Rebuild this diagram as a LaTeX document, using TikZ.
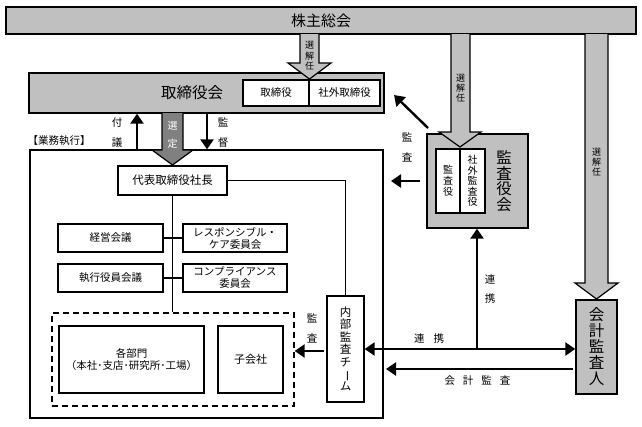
\documentclass[tikz,border=0pt]{standalone}
\usepackage{fontspec}
\setmainfont{Noto Sans CJK JP}
\usetikzlibrary{arrows.meta, calc}
\definecolor{boxgray}{RGB}{192,192,192}
\definecolor{selgray}{RGB}{128,128,128}
\tikzset{
    graybox/.style={draw=black, fill=boxgray, line width=1.4pt, inner sep=0pt},
    whitebox/.style={draw=black, fill=white, line width=1.3pt, inner sep=0pt, align=center,
        font=\fontsize{10.5}{12}\selectfont},
    link/.style={draw=black, line width=1.4pt},
    bigarrow/.style={line width=2.4pt, -{Triangle[length=10pt,width=13pt]}},
    blockarrow/.style={draw=black, fill=boxgray, line width=1.2pt},
    lbl/.style={inner sep=0pt, align=center, font=\fontsize{10.5}{20}\selectfont}
}

\begin{document}
\begin{tikzpicture}[x=1pt, y=-1pt]
    \useasboundingbox (0,0) rectangle (642,426);

    % shareholders and board
    \node[graybox, minimum width=630pt, minimum height=27pt,
        font=\fontsize{15}{16}\selectfont] (meeting) at (321,20.5) {株主総会};
    \node[graybox, minimum width=355pt, minimum height=40pt] (board) at (206.5,93) {};
    \node[inner sep=0pt, font=\fontsize{15.5}{16}\selectfont] (boardtxt) at (192,93) {取締役会};
    \node[whitebox, minimum width=66pt, minimum height=26pt] (dir) at (276,93) {取締役};
    \node[whitebox, minimum width=71pt, minimum height=26pt] (outdir) at (344.5,93) {社外取締役};

    % execution side
    \node[inner sep=0pt, font=\fontsize{10.5}{12}\selectfont] (gyomu) at (59,141) {【業務執行】};
    \node[draw=black, fill=white, line width=1.3pt, minimum width=353pt, minimum height=268pt] (exec) at (206.5,284) {};
    \node[whitebox, minimum width=109pt, minimum height=29pt,
        font=\fontsize{11.5}{12}\selectfont] (pres) at (172.5,180.5) {代表取締役社長};
    \node[whitebox, minimum width=105pt, minimum height=28pt] (mgmt) at (110.5,238) {経営会議};
    \node[whitebox, minimum width=104pt, minimum height=28pt] (rc) at (235,238) {レスポンシブル・\\ケア委員会};
    \node[whitebox, minimum width=105pt, minimum height=28pt] (exmt) at (110.5,278) {執行役員会議};
    \node[whitebox, minimum width=104pt, minimum height=28pt] (comp) at (235,278) {コンプライアンス\\委員会};
    \node[draw=black, dash pattern=on 6pt off 4pt, line width=1.3pt, minimum width=242pt, minimum height=93pt] (grp) at (173,359.5) {};
    \node[whitebox, minimum width=145pt, minimum height=67pt] (depts) at (131.5,359.5)
        {各部門\\（本社･支店･研究所･工場）};
    \node[whitebox, minimum width=65pt, minimum height=67pt, font=\fontsize{11}{12}\selectfont] (subs) at (250.5,359.5) {子会社};
    \node[whitebox, minimum width=37pt, minimum height=106pt,
        font=\fontsize{11.5}{12.4}\selectfont] (iat) at (345.5,349)
        {内\\部\\監\\査\\チ\\\rotatebox[origin=c]{-90}{ー}\\ム};

    % auditors
    \node[graybox, minimum width=101pt, minimum height=94pt] (kansa) at (477.5,181) {};
    \node[whitebox, minimum width=24pt, minimum height=64pt,
        font=\fontsize{10}{11}\selectfont] (kansayaku) at (448,181) {監\\査\\役};
    \node[whitebox, minimum width=25pt, minimum height=64pt,
        font=\fontsize{10}{10.6}\selectfont] (outkansa) at (472.5,181) {社\\外\\監\\査\\役};
    \node[inner sep=0pt, align=center, font=\fontsize{15.5}{15.5}\selectfont] (kansatxt) at (504,181) {監\\査\\役\\会};
    \node[graybox, minimum width=41pt, minimum height=94pt, align=center,
        font=\fontsize{15.5}{16}\selectfont] (cpa) at (596.5,347) {会\\計\\監\\査\\人};

    % block arrows
    \draw[blockarrow] (300,34) -- (300,63) -- (288,63) -- (309.5,79) -- (331,63) -- (319,63) -- (319,34);
    \node[lbl, font=\fontsize{9}{10.5}\selectfont] (sel1) at (309.5,56) {選\\解\\任};
    \draw[blockarrow] (451,34) -- (451,132) -- (439,132) -- (460,147) -- (481,132) -- (470,132) -- (470,34);
    \node[lbl, font=\fontsize{9}{10}\selectfont] (sel2) at (460.5,88) {選\\解\\任};
    \draw[blockarrow] (585,34) -- (585,283) -- (575,283) -- (596.5,299) -- (618,283) -- (608,283) -- (608,34);
    \node[lbl, font=\fontsize{9}{10}\selectfont] (sel3) at (596.5,162) {選\\解\\任};
    \draw[blockarrow, fill=selgray] (162,113) -- (162,150) -- (152,150) -- (172.5,165) -- (193,150) -- (183,150) -- (183,113);
    \node[lbl, text=white, font=\fontsize{10}{18}\selectfont] (sentei) at (172.5,135) {選\\定};

    % plain links
    \draw[link] (pres.east) -| (iat.north);
    \draw[link] (pres.south) -- (pres.south |- grp.north);
    \draw[link] (mgmt.east) -- (rc.west);
    \draw[link] (exmt.east) -- (comp.west);

    % arrows with labels
    \coordinate (fugi) at (137,0);
    \coordinate (kantoku) at (207,0);
    \draw[bigarrow] (fugi |- exec.north) -- (fugi |- board.south);
    \node[lbl] (fugitxt) at (117,133) {付\\議};
    \draw[bigarrow] (kantoku |- board.south) -- (kantoku |- exec.north);
    \node[lbl] (kantokutxt) at (223,133) {監\\督};

    \coordinate (diagfrom) at (428,128);
    \coordinate (diagto) at (394,95);
    \draw[bigarrow] (diagfrom) -- (diagto);
    \coordinate (leftfrom) at (420,181);
    \coordinate (leftto) at (391,181);
    \draw[bigarrow] (leftfrom) -- (leftto);
    \node[lbl] (audtxt) at (407,147) {監\\査};

    \coordinate (iatfrom) at (324,351);
    \draw[bigarrow] (iatfrom) -- (iatfrom -| grp.east);
    \node[lbl] (iattxt) at (312,328) {監\\査};

    \coordinate (junc) at (477,349);
    \draw[bigarrow] (junc) -- (junc |- kansa.south);
    \node[lbl, font=\fontsize{10.5}{19}\selectfont] (renkeitxt) at (490,289) {連\\携};
    \draw[bigarrow, {Triangle[length=10pt,width=13pt]}-{Triangle[length=10pt,width=13pt]}]
        (iat.east |- junc) -- (cpa.west |- junc);
    \node[lbl] (renkei2txt) at (429,339) {連\hspace{9pt}携};

    \coordinate (cpafrom) at (573,369);
    \coordinate (cpato) at (386,369);
    \draw[bigarrow] (cpafrom) -- (cpato);
    \node[lbl] (cpatxt) at (477.5,381) {会\hspace{8pt}計\hspace{8pt}監\hspace{8pt}査};
\end{tikzpicture}
\end{document}
